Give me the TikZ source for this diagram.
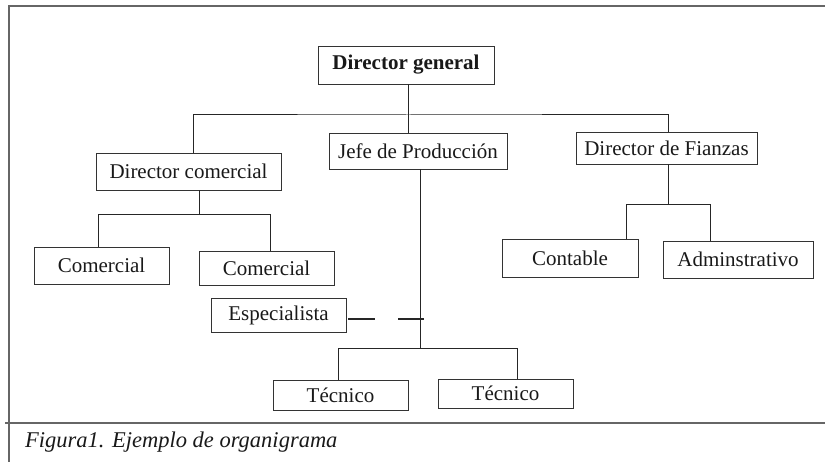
\documentclass[tikz,border=0pt]{standalone}
\usepackage{fontspec}
\setmainfont{Liberation Serif}

\begin{document}
\begin{tikzpicture}[x=1pt,y=-1pt,
    puesto/.style={draw=black!80,line width=0.9pt,inner sep=0pt,text=black!90,font=\fontsize{21}{25}\selectfont},
    linea/.style={draw=black!85,line width=1pt},
    marco/.style={draw=black!60,line width=1.4pt},
    discont/.style={draw=black!85,line width=2pt,dash pattern=on 27pt off 23pt}]
        \useasboundingbox (0,0) rectangle (825,462);
        \draw[marco] (9,462) -- (9,6) -- (825,6);
        \draw[marco] (5,423) -- (825,423);
        \node[puesto,minimum width=176pt,minimum height=38pt,font=\fontsize{21}{25}\selectfont\bfseries] (dg) at (406,65) {Director general};
        \node[puesto,minimum width=185pt,minimum height=37pt] (dc) at (188.5,171.5) {Director comercial};
        \node[puesto,minimum width=178pt,minimum height=36pt] (jp) at (418,151) {Jefe de Producción};
        \node[puesto,minimum width=181pt,minimum height=32pt] (df) at (666.5,148) {Director de Fianzas};
        \node[puesto,minimum width=135pt,minimum height=37pt] (com1) at (101.5,265.5) {Comercial};
        \node[puesto,minimum width=135pt,minimum height=34pt] (com2) at (266.5,268) {Comercial};
        \node[puesto,minimum width=135pt,minimum height=34pt] (esp) at (278.5,315) {Especialista};
        \node[puesto,minimum width=135pt,minimum height=30pt] (tec1) at (340.5,395) {Técnico};
        \node[puesto,minimum width=135pt,minimum height=29pt] (tec2) at (505.5,393.5) {Técnico};
        \node[puesto,minimum width=136pt,minimum height=38pt] (cont) at (570,258) {Contable};
        \node[puesto,minimum width=150pt,minimum height=37pt] (adm) at (738,259.5) {Adminstrativo};
        \node[anchor=base west,inner sep=0pt,text=black!90,font=\fontsize{22.5}{26}\selectfont\itshape] (pie) at (25,447) {Figura1. Ejemplo de organigrama};
        \coordinate (b1) at (408,115);
        \draw[linea] ([xshift=2pt]dg.south) -- ([xshift=2pt]dg.south |- jp.north);
        \draw[linea] ([xshift=4.5pt]dc.north) |- (b1) -| ([xshift=1.5pt]df.north);
        \draw[linea] ([xshift=10.5pt]dc.south) -- ++(0,24) coordinate (b2);
        \draw[linea] ([xshift=-3.5pt]com1.north) |- (b2) -| ([xshift=3.5pt]com2.north);
        \draw[linea] ([xshift=2pt]jp.south) -- ++(0,179) coordinate (b3);
        \draw[linea] ([xshift=-2.5pt]tec1.north) |- (b3) -| ([xshift=11.5pt]tec2.north);
        \coordinate (ej) at (jp.south |- esp.east);
        \draw[discont] ([shift={(2pt,-4pt)}]esp.east) -- ([shift={(6pt,-4pt)}]ej);
        \draw[linea] ([xshift=1.5pt]df.south) -- ++(0,40) coordinate (b4);
        \draw[linea] ([xshift=56pt]cont.north) |- (b4) -| ([xshift=-28pt]adm.north);
    \end{tikzpicture}
\end{document}
